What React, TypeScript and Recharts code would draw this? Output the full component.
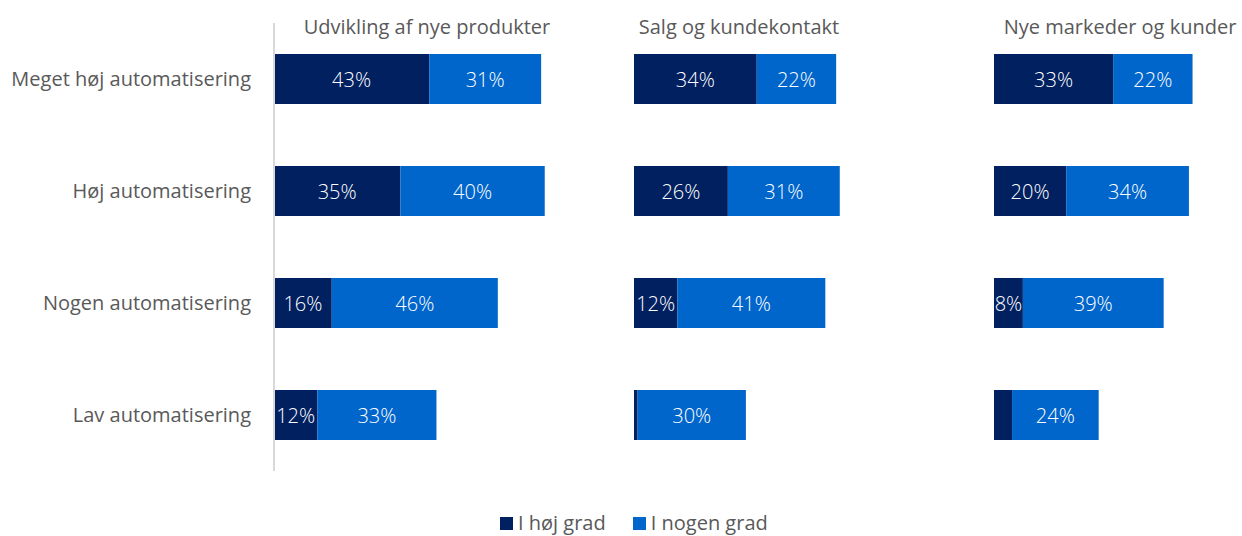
import { Bar, BarChart, LabelList, XAxis, YAxis } from 'recharts';

const categories = ['Meget høj automatisering', 'Høj automatisering', 'Nogen automatisering', 'Lav automatisering'];
const panelTitles = ['Udvikling af nye produkter', 'Salg og kundekontakt', 'Nye markeder og kunder'];

const hoejGrad = [
  [43, 35, 16, 12],
  [34, 26, 12, 1],
  [33, 20, 8, 5],
];
const nogenGrad = [
  [31, 40, 46, 33],
  [22, 31, 41, 30],
  [22, 34, 39, 24],
];

const DARK = '#002060';
const LIGHT = '#0066CC';
const FONT = '"Open Sans", "Noto Sans", sans-serif';

const titleCenters = [427, 739, 1120];

function ValueLabel(props: any) {
  const { x, y, width, height, value } = props;
  if (value < 6) return null;
  return (
    <text
      x={x + width / 2}
      y={y + height / 2}
      fill="#fff"
      fontSize={20}
      fontWeight={300}
      fontFamily={FONT}
      textAnchor="middle"
      dominantBaseline="central"
    >
      {value}%
    </text>
  );
}

function Panel({ index, showAxis }: { index: number; showAxis: boolean }) {
  const data = categories.map((c, i) => ({ name: c, hoej: hoejGrad[index][i], nogen: nogenGrad[index][i] }));
  const axisW = showAxis ? 274 : 0;
  return (
    <BarChart
      width={axisW + 361}
      height={536}
      data={data}
      layout="vertical"
      margin={{ top: 23, right: 0, bottom: 65, left: 0 }}
      barSize={50}
    >
      <XAxis type="number" domain={[0, 100]} hide />
      <YAxis
        type="category"
        dataKey="name"
        hide={!showAxis}
        width={axisW}
        tickLine={false}
        tickSize={0}
        tickMargin={23}
        axisLine={{ stroke: '#d9d9d9', strokeWidth: 2 }}
        tick={{ fill: '#595959', fontSize: 20, fontFamily: FONT }}
      />
      <Bar dataKey="hoej" stackId="a" fill={DARK} isAnimationActive={false}>
        <LabelList dataKey="hoej" content={ValueLabel} />
      </Bar>
      <Bar dataKey="nogen" stackId="a" fill={LIGHT} isAnimationActive={false}>
        <LabelList dataKey="nogen" content={ValueLabel} />
      </Bar>
    </BarChart>
  );
}

export default function App() {
  return (
    <div
      style={{
        position: 'absolute',
        left: 0,
        top: 0,
        width: 1242,
        height: 536,
        overflow: 'hidden',
        background: '#fff',
        fontFamily: FONT,
      }}
    >
      <div style={{ position: 'absolute', left: 0, top: 0 }}>
        <Panel index={0} showAxis />
      </div>
      <div style={{ position: 'absolute', left: 634, top: 0 }}>
        <Panel index={1} showAxis={false} />
      </div>
      <div style={{ position: 'absolute', left: 994, top: 0 }}>
        <Panel index={2} showAxis={false} />
      </div>
      {panelTitles.map((t, i) => (
        <div
          key={t}
          style={{
            position: 'absolute',
            left: titleCenters[i] - 200,
            width: 400,
            top: 13,
            textAlign: 'center',
            fontSize: 20,
            color: '#595959',
            lineHeight: '28px',
            whiteSpace: 'nowrap',
          }}
        >
          {t}
        </div>
      ))}
      <div
        style={{
          position: 'absolute',
          top: 509,
          left: 500,
          display: 'flex',
          gap: 27,
          fontSize: 20,
          color: '#595959',
          lineHeight: '28px',
        }}
      >
        {[
          ['I høj grad', DARK],
          ['I nogen grad', LIGHT],
        ].map(([label, color]) => (
          <div key={label} style={{ display: 'flex', alignItems: 'center' }}>
            <span style={{ width: 13, height: 13, background: color, marginRight: 5, display: 'inline-block' }} />
            {label}
          </div>
        ))}
      </div>
    </div>
  );
}
